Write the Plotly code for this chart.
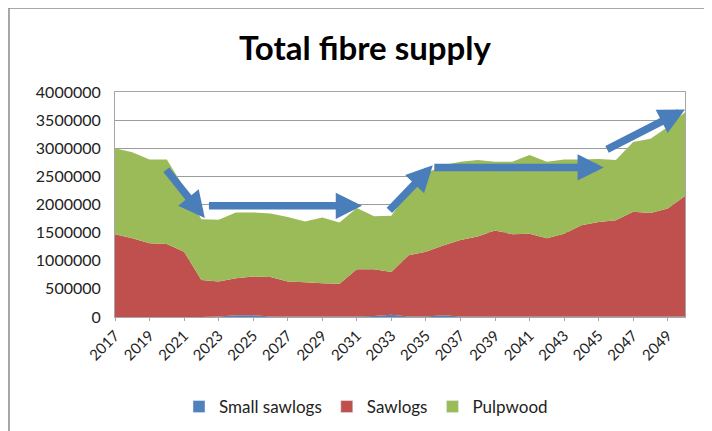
import plotly.graph_objects as go

years = list(range(2017, 2051))

# Top of the whole stack
total = [3000000, 2930000, 2800000, 2800000, 2300000, 1740000, 1730000, 1860000,
         1860000, 1840000, 1780000, 1700000, 1770000, 1680000, 1940000, 1790000,
         1800000, 2250000, 2550000, 2700000, 2760000, 2790000, 2760000, 2760000,
         2880000, 2760000, 2800000, 2800000, 2810000, 2790000, 3110000, 3170000,
         3380000, 3640000]
# Top of the red band (small sawlogs + sawlogs)
red_top = [1470000, 1400000, 1310000, 1300000, 1160000, 660000, 630000, 690000,
           720000, 710000, 630000, 620000, 600000, 590000, 850000, 850000,
           800000, 1100000, 1160000, 1270000, 1370000, 1430000, 1540000, 1470000,
           1480000, 1400000, 1480000, 1630000, 1690000, 1720000, 1870000, 1850000,
           1930000, 2150000]
small_sawlogs = [0, 0, 0, 0, 0, 0, 8000, 30000, 30000, 8000, 8000, 8000, 8000, 8000,
                 8000, 20000, 40000, 8000, 8000, 30000, 8000, 8000, 8000, 8000, 8000,
                 8000, 8000, 8000, 8000, 8000, 8000, 8000, 8000, 8000]
sawlogs = [r - s for r, s in zip(red_top, small_sawlogs)]
pulpwood = [t - r for t, r in zip(total, red_top)]

series_names = ["Small sawlogs", "Sawlogs", "Pulpwood"]
series_colors = ["#4f81bd", "#c0504d", "#9bbb59"]

# Trend arrows: (tail_year, tail_value, tip_year, tip_value)
arrows = [
    (2019.9, 2645000, 2022.2, 1760000),
    (2022.35, 1976000, 2031.3, 1976000),
    (2032.8, 1870000, 2035.4, 2700000),
    (2035.4, 2660000, 2045.3, 2660000),
    (2045.4, 2965000, 2050.0, 3690000),
]

y_ticks = list(range(0, 4000001, 500000))
x_ticks = list(range(2017, 2051, 2))

font_family = "Lato, 'Open Sans', sans-serif"

fig = go.Figure()
for name, vals, col in zip(series_names, [small_sawlogs, sawlogs, pulpwood], series_colors):
    fig.add_trace(go.Scatter(x=years, y=vals, name=name, stackgroup="s",
                             mode="none", fillcolor=col, showlegend=False,
                             legendgroup=name))
# legend swatches (square markers like the original)
for name, col in zip(series_names, series_colors):
    fig.add_trace(go.Bar(x=[None], y=[None], name=name, marker_color=col,
                         legendgroup=name, showlegend=True))

for tx, tv, hx, hv in arrows:
    fig.add_annotation(x=hx, y=hv, ax=tx, ay=tv, xref="x", yref="y", axref="x", ayref="y",
                       showarrow=True, arrowhead=2, arrowsize=0.7, arrowwidth=7.5,
                       arrowcolor="#4a7ebb", text="")

# outer chart border
fig.add_shape(type="rect", xref="paper", yref="paper", x0=-0.186, x1=1.2, y0=-0.6, y1=1.373,
              line=dict(color="#8c8c8c", width=1.5), layer="below")

W, H = 704, 423
fig.update_layout(
    width=W, height=H,
    margin=dict(l=107, r=27, t=84, b=114, autoexpand=False),
    paper_bgcolor="white", plot_bgcolor="white",
    font=dict(family=font_family, size=16, color="#222"),
    title=dict(text="<b>Total fibre supply</b>", x=(365 - 8) / W, xanchor="center",
               y=1 - 40 / H, yanchor="middle",
               font=dict(size=33, family=font_family, color="#000")),
    showlegend=True,
    legend=dict(orientation="h", xref="container", yref="container",
                x=(366 - 8) / W, xanchor="center", y=1 - (407 - 8) / H, yanchor="middle",
                font=dict(size=17), traceorder="normal", itemwidth=30),
    xaxis=dict(range=[2017, 2050], tickvals=x_ticks, ticktext=[str(v) for v in x_ticks],
               tickangle=-45, showgrid=False, showline=True, linecolor="#a6a6a6",
               mirror=True, ticks="outside", ticklen=3, tickcolor="#a6a6a6",
               zeroline=False, tickfont=dict(size=15), automargin=False),
    yaxis=dict(range=[0, 4000000], tickvals=y_ticks, ticktext=[str(v) for v in y_ticks],
               showgrid=True, gridcolor="#9c9c9c", gridwidth=1, showline=True,
               linecolor="#a6a6a6", mirror=True, zeroline=False, tickfont=dict(size=16),
               ticks="", ticklabelstandoff=10, automargin=False),
)

fig.write_html("out.html")
